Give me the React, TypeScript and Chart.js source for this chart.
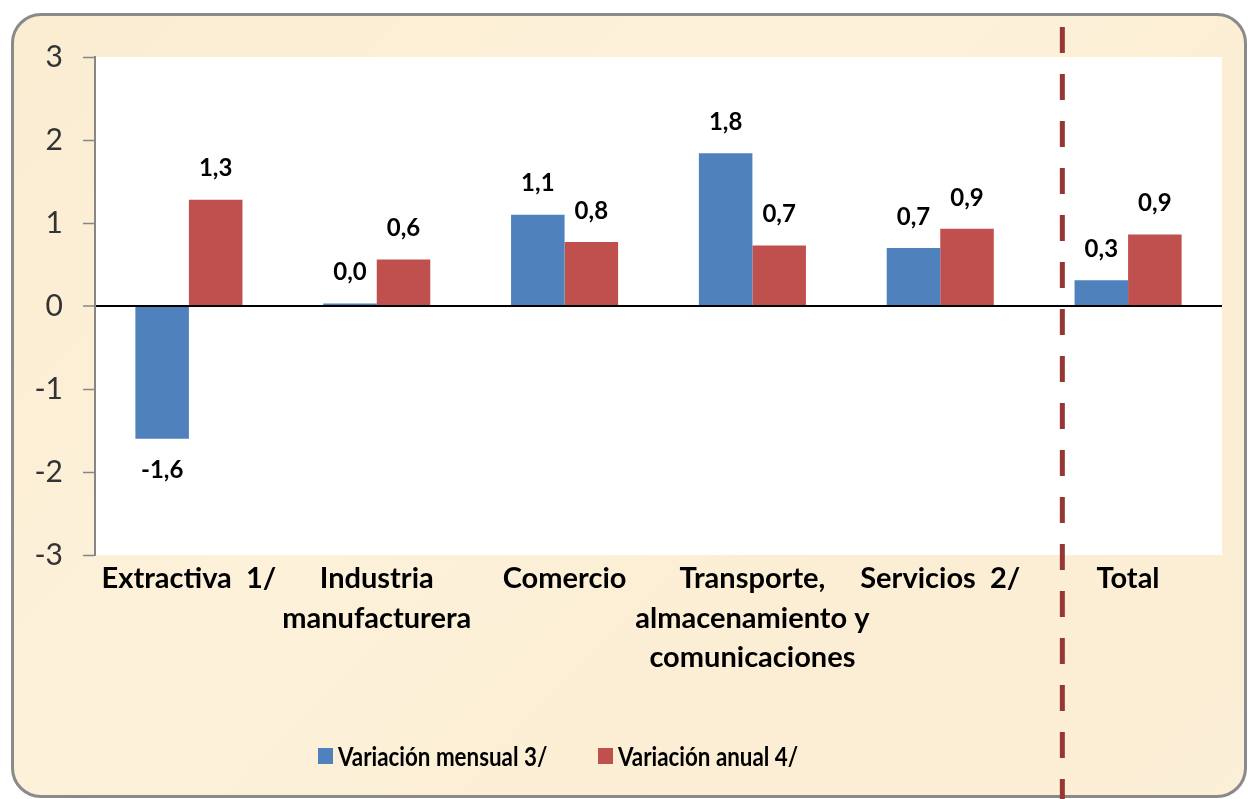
import React, { useEffect, useRef } from "react";
import { Chart, registerables } from "chart.js";

Chart.register(...registerables);

const categories: string[][] = [
  ["Extractiva  1/"],
  ["Industria", "manufacturera"],
  ["Comercio"],
  ["Transporte,", "almacenamiento y", "comunicaciones"],
  ["Servicios  2/"],
  ["Total"],
];
const monthlyValues = [-1.6, 0.03, 1.1, 1.84, 0.7, 0.31];
const annualValues = [1.28, 0.56, 0.77, 0.73, 0.93, 0.86];
const seriesNames = ["Variación mensual 3/", "Variación anual 4/"];
const seriesColors = ["#4F81BD", "#C0504D"];
const yMin = -3;
const yMax = 3;
const yStep = 1;
const dividerAt = 4.65; // position on category axis (between Servicios and Total)

const FONT = "Lato, 'Open Sans', sans-serif";

const fmt = (v: number) => v.toFixed(1).replace(".", ",");

export default function App() {
  const canvasRef = useRef<HTMLCanvasElement | null>(null);

  useEffect(() => {
    document.body.style.margin = "0";
    document.body.style.overflow = "hidden";
    const canvas = canvasRef.current;
    if (!canvas) return;

    const plotBg = {
      id: "plotBg",
      beforeDraw(chart: any) {
        const { ctx, chartArea } = chart;
        ctx.save();
        ctx.fillStyle = "#ffffff";
        ctx.fillRect(chartArea.left, chartArea.top, chartArea.right - chartArea.left, chartArea.bottom - chartArea.top);
        ctx.restore();
      },
    };

    const valueLabels = {
      id: "valueLabels",
      afterDatasetsDraw(chart: any) {
        const { ctx } = chart;
        ctx.save();
        ctx.font = `bold 24px ${FONT}`;
        ctx.fillStyle = "#000";
        ctx.textAlign = "center";
        ctx.textBaseline = "middle";
        chart.data.datasets.forEach((ds: any, di: number) => {
          const meta = chart.getDatasetMeta(di);
          meta.data.forEach((el: any, i: number) => {
            const v = ds.data[i] as number;
            const y = v >= 0 ? Math.min(el.y, el.base) - 31 : Math.max(el.y, el.base) + 31;
            ctx.fillText(fmt(v), el.x, y);
          });
        });
        ctx.restore();
      },
    };

    const divider = {
      id: "divider",
      afterDraw(chart: any) {
        const { ctx, chartArea } = chart;
        const x = chart.scales.x.getPixelForValue(dividerAt);
        ctx.save();
        ctx.strokeStyle = "#953735";
        ctx.lineWidth = 5;
        ctx.setLineDash([26, 21]);
        ctx.beginPath();
        ctx.moveTo(x, chartArea.top - 30);
        ctx.lineTo(x, chart.height);
        ctx.stroke();
        ctx.restore();
      },
    };

    const chart = new Chart(canvas, {
      type: "bar",
      data: {
        labels: categories,
        datasets: [
          { label: seriesNames[0], data: monthlyValues, backgroundColor: seriesColors[0], categoryPercentage: 0.57, barPercentage: 1 },
          { label: seriesNames[1], data: annualValues, backgroundColor: seriesColors[1], categoryPercentage: 0.57, barPercentage: 1 },
        ],
      },
      options: {
        animation: false,
        responsive: true,
        maintainAspectRatio: false,
        layout: { padding: { left: 10, top: 57, right: 26, bottom: 94 } },
        plugins: {
          legend: { display: false },
          tooltip: { enabled: false },
        },
        scales: {
          x: {
            grid: { display: false },
            border: { display: false },
            ticks: {
              color: "#000",
              font: { family: FONT, size: 29, weight: "bold", lineHeight: 1.36 },
              padding: -4,
              maxRotation: 0,
              minRotation: 0,
              autoSkip: false,
            },
            afterFit(scale: any) {
              scale.height = 150;
            },
          },
          y: {
            min: yMin,
            max: yMax,
            ticks: {
              stepSize: yStep,
              color: "#333",
              font: { family: FONT, size: 30 },
              padding: 20,
              callback: (v: any) => String(v),
            },
            grid: {
              drawOnChartArea: true,
              color: (c: any) => (c.tick && c.tick.value === 0 ? "#000" : "rgba(0,0,0,0)"),
              lineWidth: (c: any) => (c.tick && c.tick.value === 0 ? 2 : 1),
              tickColor: "#868686",
              tickLength: 12,
              tickWidth: 1.5,
            },
            border: { display: true, color: "#868686", width: 2 },
            afterFit(scale: any) {
              scale.width = 85;
            },
          },
        },
      },
      plugins: [plotBg, valueLabels, divider],
    });

    return () => chart.destroy();
  }, []);

  const legendText: React.CSSProperties = {
    fontFamily: FONT,
    fontWeight: 700,
    fontSize: 26,
    color: "#000",
    whiteSpace: "nowrap",
    lineHeight: "28px",
    display: "inline-block",
    transform: "scaleX(0.86)",
    transformOrigin: "left center",
  };

  return (
    <div style={{ position: "fixed", left: 0, top: 0, width: 1248, height: 799, overflow: "hidden", background: "#ffffff" }}>
      <div
        style={{
          position: "absolute",
          left: 11,
          top: 13,
          width: 1236,
          height: 785,
          boxSizing: "border-box",
          border: "3px solid #8a8a8a",
          borderRadius: 30,
          background: "linear-gradient(135deg, #fbedd2 0%, #fdf1da 40%, #fbeed4 70%, #fcefd7 100%)",
        }}
      />
      <div style={{ position: "absolute", left: 0, top: 0, width: 1248, height: 799 }}>
        <canvas ref={canvasRef} />
      </div>
      <div style={{ position: "absolute", left: 318, top: 742, display: "flex", alignItems: "center" }}>
        <span style={{ display: "inline-block", width: 15, height: 16, background: seriesColors[0], marginRight: 5 }} />
        <span style={legendText}>{seriesNames[0]}</span>
      </div>
      <div style={{ position: "absolute", left: 598, top: 742, display: "flex", alignItems: "center" }}>
        <span style={{ display: "inline-block", width: 15, height: 16, background: seriesColors[1], marginRight: 5 }} />
        <span style={legendText}>{seriesNames[1]}</span>
      </div>
    </div>
  );
}
